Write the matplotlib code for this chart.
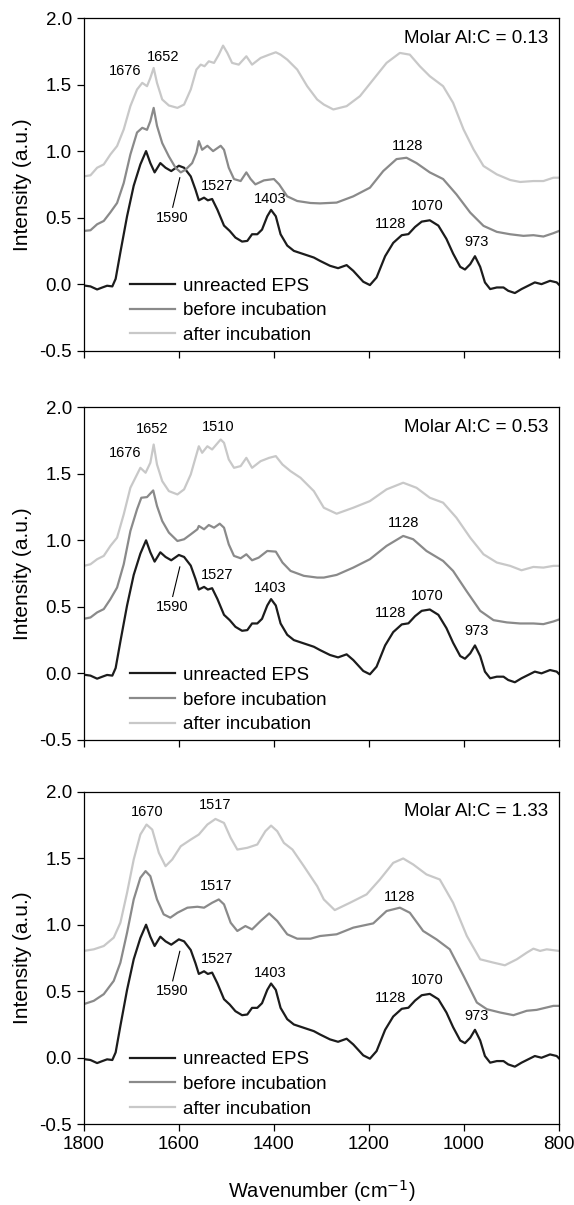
import matplotlib
matplotlib.use("Agg")
import matplotlib.pyplot as plt
from matplotlib.ticker import FormatStrFormatter

plt.rcParams['font.family'] = ['Liberation Sans', 'DejaVu Sans']
plt.rcParams['axes.unicode_minus'] = False

# unreacted EPS (same spectrum in all three panels)
eps_wn = [1800, 1786, 1772, 1761, 1751, 1740, 1733, 1723, 1709, 1695, 1681, 1669, 1660, 1651,
          1639, 1628, 1616, 1600, 1589, 1575, 1565, 1558, 1547, 1539, 1530, 1519, 1505, 1493,
          1481, 1467, 1456, 1446, 1435, 1425, 1414, 1406, 1396, 1386, 1372, 1358, 1337, 1316,
          1303, 1282, 1265, 1247, 1233, 1212, 1198, 1184, 1166, 1149, 1131, 1117, 1103, 1089,
          1072, 1054, 1037, 1023, 1008, 998, 987, 977, 966, 956, 945, 931, 917, 907, 893, 879,
          865, 851, 837, 819, 805, 800]
eps_val = [-0.01, -0.017, -0.04, -0.025, -0.012, -0.017, 0.04, 0.24, 0.51, 0.74, 0.90, 1.00, 0.91, 0.84,
           0.91, 0.875, 0.85, 0.89, 0.875, 0.81, 0.71, 0.63, 0.65, 0.63, 0.64, 0.56, 0.44, 0.40,
           0.35, 0.32, 0.325, 0.375, 0.375, 0.41, 0.51, 0.558, 0.51, 0.375, 0.29, 0.25, 0.225, 0.20,
           0.175, 0.138, 0.12, 0.143, 0.10, 0.018, -0.007, 0.05, 0.21, 0.31, 0.368, 0.376, 0.43, 0.47,
           0.48, 0.44, 0.34, 0.23, 0.13, 0.11, 0.15, 0.21, 0.13, 0.013, -0.037, -0.025, -0.025, -0.05, -0.067, -0.037,
           -0.012, 0.013, 0.0, 0.025, 0.013, -0.005]

# Al:C = 0.13
before1_wn = [1800, 1786, 1772, 1758, 1744, 1730, 1716, 1702, 1688, 1677, 1667, 1660, 1653, 1646,
              1635, 1621, 1607, 1596, 1586, 1572, 1563, 1558, 1551, 1540, 1528, 1512, 1505, 1495,
              1484, 1470, 1458, 1449, 1439, 1421, 1400, 1389, 1372, 1351, 1323, 1303, 1268, 1233,
              1198, 1170, 1142, 1121, 1100, 1072, 1044, 1016, 987, 959, 931, 903, 875, 854, 833, 812, 800]
before1_val = [0.40, 0.405, 0.45, 0.475, 0.54, 0.61, 0.76, 0.975, 1.14, 1.175, 1.16, 1.225, 1.325, 1.19,
               1.06, 0.96, 0.875, 0.84, 0.86, 0.91, 0.99, 1.075, 1.01, 1.04, 1.0, 1.04, 1.01, 0.875,
               0.79, 0.775, 0.84, 0.79, 0.75, 0.78, 0.79, 0.75, 0.66, 0.625, 0.61, 0.607, 0.613, 0.66,
               0.725, 0.85, 0.94, 0.95, 0.91, 0.84, 0.79, 0.675, 0.538, 0.438, 0.393, 0.375, 0.363, 0.368, 0.358, 0.383, 0.40]
after1_wn = [1800, 1786, 1772, 1758, 1744, 1730, 1716, 1702, 1688, 1677, 1667, 1660, 1653, 1646,
             1635, 1621, 1603, 1589, 1575, 1563, 1554, 1546, 1537, 1526, 1516, 1507, 1498, 1488,
             1474, 1458, 1446, 1428, 1410, 1396, 1386, 1372, 1351, 1330, 1309, 1295, 1275, 1247,
             1219, 1191, 1163, 1135, 1114, 1093, 1072, 1044, 1023, 1001, 980, 959, 931, 903, 882,
             854, 833, 812, 800]
after1_val = [0.81, 0.818, 0.875, 0.90, 0.975, 1.038, 1.163, 1.338, 1.463, 1.513, 1.488, 1.55, 1.625, 1.513,
              1.388, 1.343, 1.325, 1.35, 1.463, 1.613, 1.65, 1.638, 1.675, 1.663, 1.725, 1.793, 1.738, 1.663,
              1.65, 1.713, 1.65, 1.70, 1.725, 1.743, 1.725, 1.688, 1.613, 1.488, 1.388, 1.35, 1.313, 1.338,
              1.413, 1.538, 1.663, 1.738, 1.725, 1.638, 1.563, 1.488, 1.363, 1.163, 1.013, 0.888, 0.825, 0.783, 0.768,
              0.775, 0.775, 0.80, 0.80]

# Al:C = 0.53
before2_wn = [1800, 1786, 1772, 1758, 1744, 1730, 1716, 1702, 1688, 1679, 1667, 1654, 1646, 1635,
              1621, 1603, 1589, 1575, 1561, 1558, 1547, 1537, 1526, 1514, 1505, 1495, 1484, 1470,
              1458, 1446, 1432, 1414, 1396, 1382, 1365, 1337, 1309, 1295, 1268, 1233, 1198, 1163,
              1128, 1107, 1079, 1044, 1023, 995, 966, 938, 910, 882, 854, 833, 812, 800]
before2_val = [0.41, 0.42, 0.458, 0.483, 0.558, 0.645, 0.82, 1.07, 1.233, 1.32, 1.325, 1.375, 1.258, 1.145,
               1.058, 0.995, 1.008, 1.045, 1.083, 1.108, 1.083, 1.115, 1.095, 1.125, 1.095, 0.97, 0.883, 0.865,
               0.895, 0.85, 0.87, 0.92, 0.915, 0.833, 0.77, 0.733, 0.72, 0.72, 0.74, 0.795, 0.858, 0.958,
               1.033, 1.008, 0.92, 0.845, 0.77, 0.62, 0.47, 0.40, 0.383, 0.375, 0.375, 0.37, 0.39, 0.405]
after2_wn = [1800, 1786, 1772, 1758, 1744, 1730, 1716, 1702, 1688, 1681, 1670, 1660, 1653, 1646,
             1635, 1621, 1603, 1589, 1575, 1565, 1558, 1551, 1540, 1530, 1512, 1505, 1495, 1484,
             1470, 1458, 1446, 1428, 1410, 1396, 1382, 1365, 1344, 1316, 1295, 1268, 1233, 1198,
             1163, 1128, 1100, 1072, 1044, 1016, 987, 959, 931, 903, 879, 854, 833, 812, 800]
after2_val = [0.808, 0.82, 0.858, 0.883, 0.958, 1.02, 1.195, 1.395, 1.495, 1.545, 1.508, 1.583, 1.72, 1.57,
              1.445, 1.37, 1.345, 1.383, 1.495, 1.62, 1.707, 1.658, 1.707, 1.683, 1.758, 1.733, 1.608, 1.545,
              1.558, 1.62, 1.545, 1.595, 1.62, 1.633, 1.57, 1.52, 1.47, 1.37, 1.245, 1.2, 1.245, 1.295,
              1.383, 1.433, 1.395, 1.32, 1.283, 1.17, 1.02, 0.895, 0.833, 0.808, 0.775, 0.80, 0.795, 0.808, 0.808]

# Al:C = 1.33
before3_wn = [1800, 1779, 1758, 1737, 1723, 1709, 1695, 1681, 1670, 1660, 1646, 1632, 1618, 1603,
              1582, 1561, 1547, 1530, 1516, 1505, 1491, 1477, 1460, 1446, 1428, 1410, 1393, 1372,
              1351, 1323, 1303, 1268, 1233, 1191, 1163, 1135, 1114, 1086, 1058, 1030, 1001, 973,
              952, 924, 896, 868, 847, 826, 812, 800]
before3_val = [0.403, 0.428, 0.478, 0.578, 0.715, 0.94, 1.19, 1.353, 1.403, 1.365, 1.19, 1.078, 1.053, 1.09,
               1.128, 1.135, 1.128, 1.165, 1.19, 1.153, 1.015, 0.953, 0.99, 0.965, 1.028, 1.085, 1.028, 0.928,
               0.895, 0.895, 0.915, 0.928, 0.978, 1.01, 1.103, 1.128, 1.09, 0.953, 0.89, 0.815, 0.615, 0.415,
               0.365, 0.34, 0.32, 0.353, 0.36, 0.378, 0.39, 0.39]
after3_wn = [1800, 1779, 1758, 1737, 1723, 1709, 1695, 1681, 1668, 1656, 1642, 1628, 1614, 1596,
             1575, 1558, 1540, 1523, 1505, 1491, 1477, 1456, 1435, 1418, 1406, 1393, 1379, 1361,
             1337, 1309, 1295, 1272, 1240, 1205, 1177, 1149, 1128, 1107, 1079, 1051, 1023, 994,
             966, 938, 914, 889, 868, 854, 840, 826, 800]
after3_val = [0.803, 0.815, 0.84, 0.903, 1.015, 1.24, 1.49, 1.678, 1.753, 1.715, 1.54, 1.44, 1.49, 1.59,
              1.64, 1.678, 1.753, 1.795, 1.765, 1.653, 1.565, 1.578, 1.603, 1.703, 1.745, 1.703, 1.615, 1.565,
              1.44, 1.29, 1.19, 1.11, 1.165, 1.228, 1.34, 1.465, 1.498, 1.453, 1.378, 1.34, 1.165, 0.915,
              0.74, 0.715, 0.695, 0.74, 0.79, 0.82, 0.803, 0.815, 0.803]

ratios = ["0.13", "0.53", "1.33"]
panels = [(before1_wn, before1_val, after1_wn, after1_val),
          (before2_wn, before2_val, after2_wn, after2_val),
          (before3_wn, before3_val, after3_wn, after3_val)]

# peak labels: (text, wn, value)
eps_labels = [("1527", 1520, 0.74), ("1403", 1408, 0.64), ("1128", 1154, 0.45),
              ("1070", 1078, 0.585), ("973", 973, 0.315)]
extra_labels = [
    [("1676", 1714, 1.60), ("1652", 1634, 1.71), ("1128", 1118, 1.04)],
    [("1676", 1714, 1.66), ("1652", 1657, 1.84), ("1510", 1518, 1.85), ("1128", 1128, 1.13)],
    [("1670", 1667, 1.85), ("1517", 1524, 1.90), ("1517", 1522, 1.29), ("1128", 1135, 1.21)],
]

c_eps = "#1c1c1c"
c_before = "#8a8a8a"
c_after = "#c8c8c8"

fig = plt.figure(figsize=(5.74, 12.05), dpi=100)
tops = [0.985, 0.662, 0.343]
h = 0.276

for i in range(3):
    ax = fig.add_axes([0.146, tops[i] - h, 0.828, h])
    b_wn, b_val, a_wn, a_val = panels[i]
    ax.plot(eps_wn, eps_val, c=c_eps, lw=1.6, label="unreacted EPS")
    ax.plot(b_wn, b_val, c=c_before, lw=1.6, label="before incubation")
    ax.plot(a_wn, a_val, c=c_after, lw=1.6, label="after incubation")

    ax.set_xlim(1800, 800)
    ax.set_ylim(-0.5, 2.0)
    ax.set_xticks([1800, 1600, 1400, 1200, 1000, 800])
    ax.set_yticks([-0.5, 0.0, 0.5, 1.0, 1.5, 2.0])
    ax.yaxis.set_major_formatter(FormatStrFormatter('%.1f'))
    ax.tick_params(direction="out", length=5, width=0.9, labelsize=13.5)
    if i < 2:
        ax.set_xticklabels([])
    for s in ax.spines.values():
        s.set_linewidth(0.9)
    ax.set_ylabel("Intensity (a.u.)", fontsize=15, labelpad=5)

    for t, x, y in eps_labels + extra_labels[i]:
        ax.text(x, y, t, fontsize=10.5, ha="center", va="center")
    ax.text(1613, 0.50, "1590", fontsize=10.5, ha="center", va="center")
    ax.plot([1613, 1598], [0.578, 0.80], c="k", lw=0.8)

    ax.text(0.977, 0.94, "Molar Al:C = " + ratios[i], transform=ax.transAxes,
            fontsize=13.5, ha="right", va="center")
    ax.legend(loc="lower left", bbox_to_anchor=(0.097, 0.02), frameon=False,
              fontsize=13.5, handlelength=2.4, labelspacing=0.4, handletextpad=0.43,
              borderpad=0, borderaxespad=0)

ax.set_xlabel("Wavenumber (cm$^{-1}$)", fontsize=14.5, labelpad=18)

fig.savefig("out.png", dpi=100)
